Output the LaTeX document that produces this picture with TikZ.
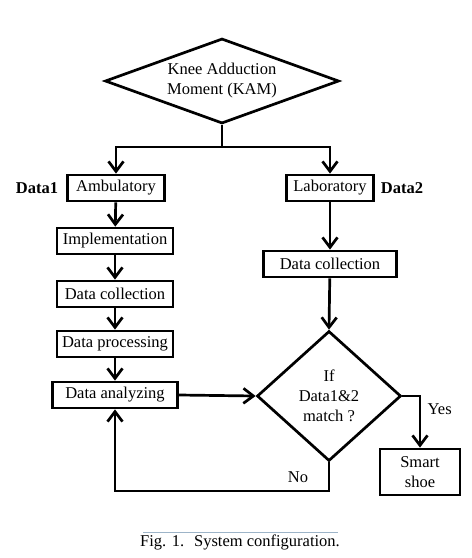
\documentclass[tikz,border=0pt]{standalone}
\usepackage{fontspec}
\setmainfont{Liberation Serif}
\definecolor{CaptionRule}{HTML}{9DB4C8}
\usetikzlibrary{arrows.meta,shapes.geometric}

\begin{document}
\begin{tikzpicture}[x=1pt, y=-1pt, font=\fontsize{16.5}{20}\selectfont,
		box/.style={draw, line width=2.7pt, minimum height=26pt, inner sep=0pt, align=center},
		decision/.style={draw, diamond, line width=2.7pt, inner sep=0pt, align=center},
		flow/.style={line width=2.7pt, line join=miter},
		arr/.style={flow, -{Straight Barb[length=10pt, width=15pt]}}]
		\useasboundingbox (0,0) rectangle (472,558);
		\node[decision, minimum width=234pt, minimum height=85pt, aspect=2.75] (kam) at (222,81) {Knee Adduction\\Moment (KAM)};
		\coordinate (split) at (222,147);
		\node[box, minimum width=97pt] (amb) at (116,188) {Ambulatory};
		\node[box, minimum width=116pt] (impl) at (115,241) {Implementation};
		\node[box, minimum width=116pt] (collectL) at (115,294) {Data collection};
		\node[box, minimum width=116pt] (process) at (115,344) {Data processing};
		\node[box, minimum width=125pt] (analyze) at (115,395) {Data analyzing};
		\node[box, minimum width=87pt] (lab) at (330,188) {Laboratory};
		\node[box, minimum width=133pt] (collectR) at (330,264) {Data collection};
		\node[decision, minimum width=144pt, minimum height=130pt, aspect=1.1] (match) at (329,396) {If\\Data1\&2\\match ?};
		\node[box, minimum width=80pt, minimum height=46pt] (shoe) at (420,472) {Smart\\shoe};
		\node[font=\fontsize{16.5}{20}\selectfont\bfseries] (data1) at (37,188) {Data1};
		\node[font=\fontsize{16.5}{20}\selectfont\bfseries] (data2) at (402,188) {Data2};
		\coordinate (nobend) at (329,491);
		\draw[flow] (kam.south) -- (split);
		\draw[arr] (split) -| (amb.north);
		\draw[arr] (split) -| (lab.north);
		\draw[arr] (amb) -- (impl);
		\draw[arr] (impl) -- (collectL);
		\draw[arr] (collectL) -- (process);
		\draw[arr] (process) -- (analyze);
		\draw[arr] (lab) -- (collectR);
		\draw[arr] (collectR) -- (match.north);
		\draw[arr] (analyze.east) -- (match.west);
		\draw[arr] (match.east) -| node[pos=0.63, right=3pt] {Yes} (shoe.north);
		\draw[arr] (match.south) -- (nobend) -| (analyze.south);
		\node (no) at (298,477) {No};
		\draw[CaptionRule, line width=0.8pt] (143,532) -- (338,532);
		\node (caption) at (240,542) {Fig. 1.\hspace{0.6em}System configuration.};
	\end{tikzpicture}
\end{document}
